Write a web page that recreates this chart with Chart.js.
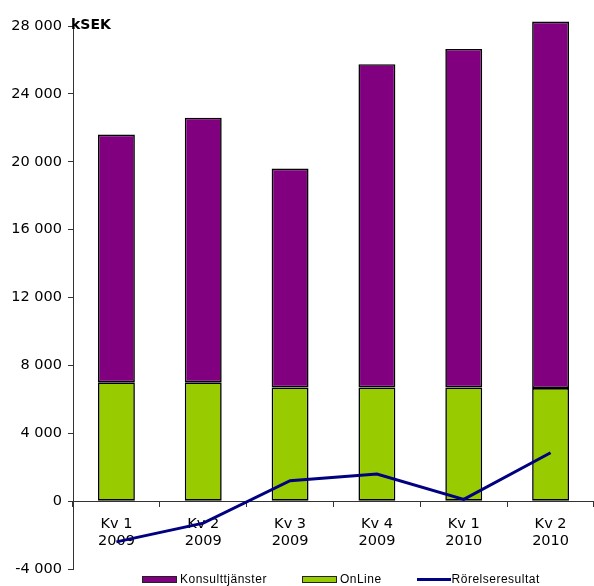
<!DOCTYPE html>
<html>
<head>
<meta charset="utf-8">
<script src="https://cdn.jsdelivr.net/npm/chart.js@4/dist/chart.umd.min.js"></script>
<style>
  html, body { margin: 0; padding: 0; background: #fff; }
  #wrap { position: relative; width: 594px; height: 586px; }
  #legend {
    position: absolute; left: 142px; top: 572px; height: 14px;
    display: flex; align-items: center;
    font: 12px "Liberation Sans", Arial, sans-serif; letter-spacing: 0.5px; color: #000;
  }
  .item { display: flex; align-items: center; margin-right: 35px; }
  .swatch { width: 33px; height: 5px; border: 1px solid #222; margin-right: 3px; }
  .stroke { width: 34px; height: 3px; margin-right: 1px; }
</style>
</head>
<body>
<div id="wrap">
  <canvas id="chart" width="594" height="586"></canvas>
  <div id="legend"></div>
</div>
<script>
const quarters = [['Kv 1', '2009'], ['Kv 2', '2009'], ['Kv 3', '2009'], ['Kv 4', '2009'], ['Kv 1', '2010'], ['Kv 2', '2010']];
const konsultValues = [14600, 15600, 12900, 19050, 19950, 21600];
const onlineValues = [7000, 7000, 6700, 6700, 6700, 6660];
const resultValues = [-2400, -1300, 1200, 1600, 100, 2850];
const yTicks = [-4000, 0, 4000, 8000, 12000, 16000, 20000, 24000, 28000];
const unitText = 'kSEK';

(() => {
  const tickFont = { family: '"DejaVu Sans", Verdana, sans-serif', size: 14.5 };
  const axisColor = '#333';

  const formatThousands = (v) => {
    const s = String(Math.abs(v)).replace(/\B(?=(\d{3})+(?!\d))/g, ' ');
    return v < 0 ? '-' + s : s;
  };

  // kSEK sits right at the top of the y axis
  const unitLabel = {
    id: 'unitLabel',
    afterDraw(chart) {
      const { ctx, chartArea } = chart;
      ctx.save();
      ctx.font = 'bold 14px "DejaVu Sans", Verdana, sans-serif';
      ctx.fillStyle = '#000';
      ctx.textBaseline = 'alphabetic';
      ctx.fillText(unitText, chartArea.left - 2, chartArea.top + 3);
      ctx.restore();
    }
  };

  const datasets = [
    {
      type: 'bar',
      label: 'OnLine',
      data: onlineValues,
      backgroundColor: '#99CC00',
      borderColor: '#000',
      borderWidth: 1.6,
      borderSkipped: false,
      order: 2,
      clip: false
    },
    {
      type: 'bar',
      label: 'Konsulttjänster',
      data: konsultValues,
      backgroundColor: '#800080',
      borderColor: '#000',
      borderWidth: 1.6,
      borderSkipped: false,
      order: 2,
      clip: false
    },
    {
      type: 'line',
      label: 'Rörelseresultat',
      data: resultValues,
      borderColor: '#000080',
      backgroundColor: '#000080',
      borderWidth: 3,
      pointRadius: 0,
      tension: 0,
      stack: 'result',
      order: 1
    }
  ];

  const chart = new Chart(document.getElementById('chart').getContext('2d'), {
    data: { labels: quarters, datasets },
    plugins: [unitLabel],
    options: {
      responsive: false,
      animation: false,
      layout: { padding: { top: 26, right: 0, bottom: 17, left: 0 } },
      datasets: { bar: { barPercentage: 0.425, categoryPercentage: 1 } },
      plugins: { legend: { display: false }, tooltip: { enabled: false } },
      scales: {
        x: {
          stacked: true,
          position: { y: 0 },
          offset: true,
          grid: { drawOnChartArea: false, offset: true, tickLength: 5, color: axisColor },
          border: { color: axisColor },
          ticks: { color: '#000', font: tickFont, padding: 9, maxRotation: 0 }
        },
        y: {
          stacked: true,
          min: yTicks[0],
          max: yTicks[yTicks.length - 1],
          afterFit: (scale) => { scale.width = 73; },
          afterBuildTicks: (scale) => { scale.ticks = yTicks.map((value) => ({ value })); },
          grid: { drawOnChartArea: false, tickLength: 5, color: axisColor },
          border: { color: axisColor },
          ticks: { color: '#000', font: tickFont, padding: 6, callback: formatThousands }
        }
      }
    }
  });

  // legend order as in the picture
  const legendOrder = ['Konsulttjänster', 'OnLine', 'Rörelseresultat'];
  const legendEl = document.getElementById('legend');
  legendOrder.forEach((name) => {
    const ds = chart.data.datasets.find((d) => d.label === name);
    const item = document.createElement('div');
    item.className = 'item';
    const mark = document.createElement('span');
    mark.className = ds.type === 'line' ? 'stroke' : 'swatch';
    mark.style.background = ds.type === 'line' ? ds.borderColor : ds.backgroundColor;
    item.appendChild(mark);
    item.appendChild(document.createTextNode(name));
    legendEl.appendChild(item);
  });
})();
</script>
</body>
</html>
